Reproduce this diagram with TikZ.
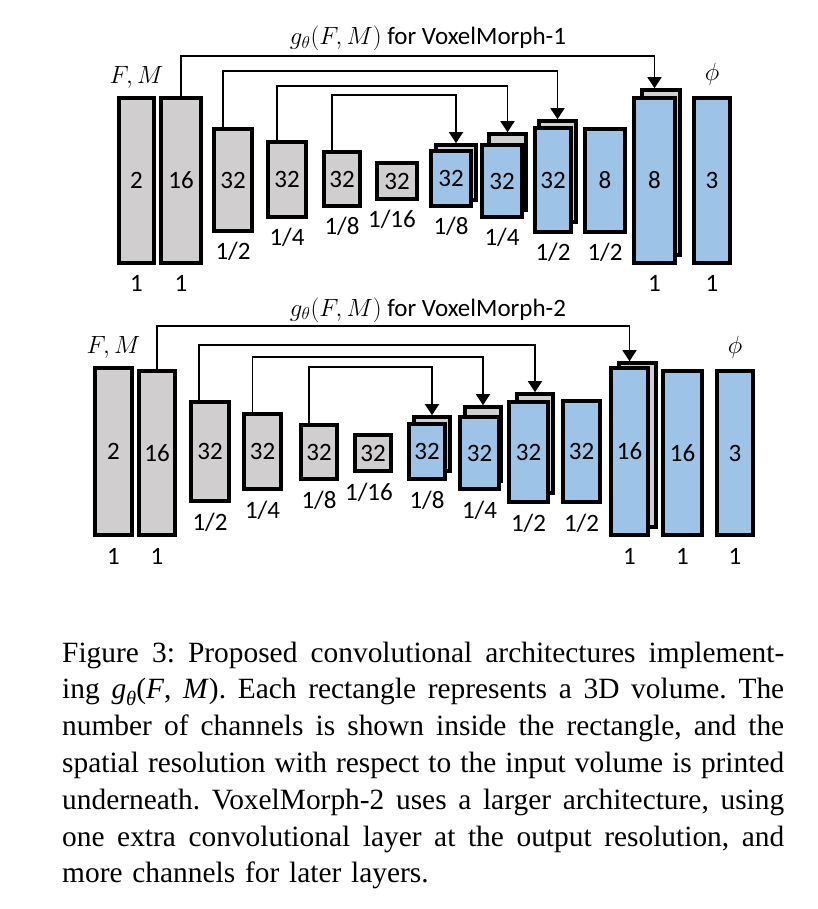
\documentclass[tikz,border=0pt]{standalone}
\usepackage{fontspec}
\setmainfont{Liberation Serif}
\newfontfamily\carlito{Carlito}
\usetikzlibrary{arrows.meta, positioning}
\definecolor{boxgrey}{RGB}{208,206,206}
\definecolor{boxblue}{RGB}{157,195,230}
\newcommand{\capline}[1]{\leavevmode\hbox to 722pt{\spaceskip=0.25em plus 1fil minus 0.1em\relax #1}}

\begin{document}
\begin{tikzpicture}[
        x=1pt, y=-1pt,
        layer/.style={draw, line width=3.6pt, inner sep=0pt, font=\carlito\fontsize{25}{30}\selectfont},
        grey box/.style={layer, fill=boxgrey},
        blue box/.style={layer, fill=boxblue},
        skip line/.style={line width=1.6pt, -{Triangle[width=14pt, length=11pt]}},
        res/.style={anchor=base, inner sep=0pt, font=\carlito\fontsize{25}{30}\selectfont}]

    \fill[white] (0,0) rectangle (817,909);
    \useasboundingbox (0,0) rectangle (817,909);

    % voxelmorph-1, encoder
    \node[grey box, minimum width=35pt, minimum height=165pt] (e0) at (136.5,180.5) {2};
    \node[grey box, minimum width=40pt, minimum height=165pt] (e1) at (181,180.5) {16};
    \node[grey box, minimum width=38pt, minimum height=102pt] (e2) at (233,180) {32};
    \node[grey box, minimum width=38pt, minimum height=75pt] (e3) at (287,179.5) {32};
    \node[grey box, minimum width=36pt, minimum height=54pt] (e4) at (342,179) {32};
    \node[grey box, minimum width=40pt, minimum height=36pt] (e5) at (397,181) {32};

    % voxelmorph-1, decoder (copied volume behind)
    \node[grey box, minimum width=40pt, minimum height=55pt] (d4b) at (456,172.5) {};
    \node[blue box, minimum width=40pt, minimum height=55pt] (d4) at (451,178.5) {32};
    \node[grey box, minimum width=37pt, minimum height=76pt] (d3b) at (507.5,172) {};
    \node[blue box, minimum width=40pt, minimum height=72pt] (d3) at (502,181) {32};
    \node[grey box, minimum width=37pt, minimum height=101pt] (d2b) at (557.5,171.5) {};
    \node[blue box, minimum width=36pt, minimum height=104pt] (d2) at (553,180) {32};
    \node[blue box, minimum width=40pt, minimum height=103pt] (d2c) at (605,180.5) {8};
    \node[grey box, minimum width=38pt, minimum height=165pt] (d1b) at (661,172.5) {};
    \node[blue box, minimum width=41pt, minimum height=165pt] (d1) at (654.5,180.5) {8};
    \node[blue box, minimum width=36pt, minimum height=165pt] (out) at (712,180.5) {3};

    \node[res] (t1) at (428,45) {$g_\theta(F,M)$ for VoxelMorph-1};
    \node[res] (in1) at ([yshift=13pt]e0.north) {$F,M$};
    \node[res] (phi1) at ([yshift=16pt]out.north) {$\phi$};

    \node[res] (r0) at ([yshift=-27pt]e0.south) {1};
    \node[res] (r1) at ([yshift=-27pt]e1.south) {1};
    \node[res] (r2) at ([yshift=-27pt]e2.south) {1/2};
    \node[res] (r3) at ([yshift=-27pt]e3.south) {1/4};
    \node[res] (r4) at ([yshift=-27pt]e4.south) {1/8};
    \node[res] (r5) at ([xshift=-5pt, yshift=-27pt]e5.south) {1/16};
    \node[res] (s4) at ([yshift=-27pt]d4.south) {1/8};
    \node[res] (s3) at ([yshift=-27pt]d3.south) {1/4};
    \node[res] (s2) at ([yshift=-27pt]d2.south) {1/2};
    \node[res] (s2c) at ([yshift=-27pt]d2c.south) {1/2};
    \node[res] (s1) at ([yshift=-27pt]d1.south) {1};
    \node[res] (s0) at ([yshift=-27pt]out.south) {1};

    % skip connections
    \draw[skip line] (e1.north) -- ++(0,-40) -| (d1 |- d1b.north);
    \draw[skip line] ([xshift=-10pt]e2.north) -- ++(0,-56) -| (d2b.north);
    \draw[skip line] ([xshift=-10pt]e3.north) -- ++(0,-54) -| (d3b.north);
    \draw[skip line] ([xshift=-10pt]e4.north) -- ++(0,-55) -| (d4b.north);

    % voxelmorph-2, encoder
    \node[grey box, minimum width=37pt, minimum height=167pt] (f0) at (113.5,451.5) {2};
    \node[grey box, minimum width=36pt, minimum height=164pt] (f1) at (157,453) {16};
    \node[grey box, minimum width=38pt, minimum height=99pt] (f2) at (210,451.5) {32};
    \node[grey box, minimum width=37pt, minimum height=75pt] (f3) at (262.5,451.5) {32};
    \node[grey box, minimum width=36pt, minimum height=54pt] (f4) at (319,452) {32};
    \node[grey box, minimum width=36pt, minimum height=36pt] (f5) at (373,453) {32};

    % voxelmorph-2, decoder
    \node[grey box, minimum width=36pt, minimum height=54pt] (g4b) at (432,444) {};
    \node[blue box, minimum width=36pt, minimum height=55pt] (g4) at (427,451.5) {32};
    \node[grey box, minimum width=36pt, minimum height=74pt] (g3b) at (483,444) {};
    \node[blue box, minimum width=39pt, minimum height=72pt] (g3) at (479.5,453) {32};
    \node[grey box, minimum width=36pt, minimum height=99pt] (g2b) at (535,443.5) {};
    \node[blue box, minimum width=39pt, minimum height=100pt] (g2) at (528.5,452) {32};
    \node[blue box, minimum width=37pt, minimum height=101pt] (g2c) at (581.5,451.5) {32};
    \node[grey box, minimum width=37pt, minimum height=164pt] (g1b) at (637.5,445) {};
    \node[blue box, minimum width=37pt, minimum height=167pt] (g1) at (629.5,451.5) {16};
    \node[blue box, minimum width=39pt, minimum height=164pt] (g0) at (682.5,453) {16};
    \node[blue box, minimum width=36pt, minimum height=164pt] (gout) at (735,453) {3};

    \node[res] (t2) at (428,316) {$g_\theta(F,M)$ for VoxelMorph-2};
    \node[res] (in2) at ([yshift=13pt]f0.north) {$F,M$};
    \node[res] (phi2) at ([yshift=16pt]gout.north) {$\phi$};

    \node[res] (q0) at ([yshift=-28pt]f0.south) {1};
    \node[res] (q1) at ([yshift=-28pt]f1.south) {1};
    \node[res] (q2) at ([yshift=-28pt]f2.south) {1/2};
    \node[res] (q3) at ([yshift=-28pt]f3.south) {1/4};
    \node[res] (q4) at ([yshift=-28pt]f4.south) {1/8};
    \node[res] (q5) at ([xshift=-4pt, yshift=-28pt]f5.south) {1/16};
    \node[res] (p4) at ([yshift=-28pt]g4.south) {1/8};
    \node[res] (p3) at ([yshift=-28pt]g3.south) {1/4};
    \node[res] (p2) at ([yshift=-28pt]g2.south) {1/2};
    \node[res] (p2c) at ([yshift=-28pt]g2c.south) {1/2};
    \node[res] (p1) at ([yshift=-28pt]g1.south) {1};
    \node[res] (p0) at ([yshift=-28pt]g0.south) {1};
    \node[res] (pout) at ([yshift=-28pt]gout.south) {1};

    % skip connections
    \draw[skip line] (f1.north) -- ++(0,-43) -| (g1 |- g1b.north);
    \draw[skip line] ([xshift=-11pt]f2.north) -- ++(0,-55) -| (g2b.north);
    \draw[skip line] ([xshift=-10pt]f3.north) -- ++(0,-55) -| (g3b.north);
    \draw[skip line] ([xshift=-10pt]f4.north) -- ++(0,-56) -| (g4b.north);

    % caption
    \node[anchor=base west, inner sep=0pt, text width=722pt,
          font=\fontsize{29.4}{36.8}\selectfont\frenchspacing] (cap) at (62,662)
        {\capline{Figure 3: Proposed convolutional architectures implement-}\\
         \capline{ing \textit{g}\raisebox{-0.22em}{\fontsize{20.5}{21}\selectfont\textit{θ}}(\textit{F}, \textit{M}). Each rectangle represents a 3D volume. The}\\
         \capline{number of channels is shown inside the rectangle, and the}\\
         \capline{spatial resolution with respect to the input volume is printed}\\
         \capline{underneath. VoxelMorph-2 uses a larger architecture, using}\\
         \capline{one extra convolutional layer at the output resolution, and}\\
         more channels for later layers.};
\end{tikzpicture}
\end{document}
